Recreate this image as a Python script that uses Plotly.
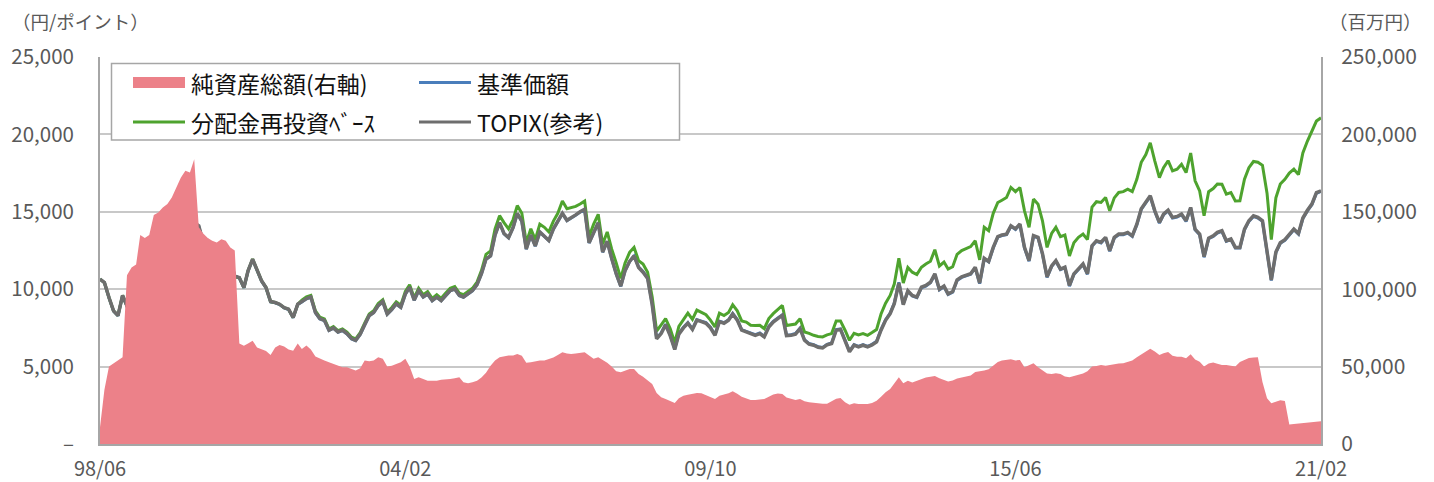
import pandas as pd
import plotly.graph_objects as go

# Monthly dates Jun-1998 .. Feb-2021
dates = pd.date_range("1998-06-01", "2021-02-01", freq="MS")

tick_dates = ["1998-06-01", "2004-02-01", "2009-10-01", "2015-06-01", "2021-02-01"]
tick_labels = ["98/06", "04/02", "09/10", "15/06", "21/02"]

left_ticks = [0, 5000, 10000, 15000, 20000, 25000]
left_labels = ["–", "5,000", "10,000", "15,000", "20,000", "25,000"]
right_ticks = [0, 50000, 100000, 150000, 200000, 250000]
right_labels = ["0", "50,000", "100,000", "150,000", "200,000", "250,000"]

# 純資産総額 (百万円)
nav_total = [
    10800, 35000, 50000, 52000, 53500, 56000, 109000, 114000, 116000, 135000, 133000, 135000,
    148000, 149600, 152800, 155000, 159200, 166000, 172000, 176500, 175400, 184000, 140000, 136000,
    133000, 131300, 130200, 132300, 131300, 127000, 125000, 65000, 63500, 65000, 66700, 62400,
    61300, 60000, 57500, 62400, 64000, 63000, 61000, 60300, 65000, 61400, 63600, 61000,
    56500, 55000, 53900, 52800, 51700, 50600, 49600, 49600, 48500, 47400, 49000, 54000,
    53500, 54000, 56000, 55000, 50000, 50600, 51700, 52800, 55000, 50000, 42000, 43100,
    42000, 40900, 40900, 40900, 41500, 42000, 42000, 42500, 43100, 39900, 39200, 39900,
    40900, 43000, 46000, 50500, 54000, 56000, 56500, 57100, 57100, 58200, 57000, 52500,
    52800, 53400, 53900, 53900, 55000, 55800, 57500, 59300, 58500, 58200, 58400, 59000,
    59300, 57100, 55000, 56000, 54500, 52500, 50000, 47000, 46300, 47500, 48500, 48500,
    45300, 43500, 41000, 38800, 33000, 30200, 29100, 28000, 26500, 29500, 31200, 31800,
    32300, 33000, 32800, 31500, 30200, 29100, 31200, 31900, 32800, 34000, 32500, 30500,
    29400, 28500, 28400, 28600, 29100, 30600, 31900, 32600, 32300, 30000, 29000, 28500,
    29000, 27600, 26900, 26500, 26500, 26000, 26000, 27500, 29300, 29700, 26900, 25300,
    26300, 25900, 25900, 25900, 26500, 28000, 30500, 33400, 35600, 39000, 43100, 39200,
    40900, 39800, 41000, 42200, 43000, 43500, 44000, 42500, 41500, 40400, 41000, 42300,
    43000, 43500, 44300, 46500, 46800, 47400, 48300, 50500, 53000, 54000, 54300, 54700,
    54000, 54300, 49500, 51100, 52100, 49500, 47500, 45500, 45200, 45700, 45300, 43600,
    43200, 44000, 44500, 45500, 47000, 50000, 50400, 51000, 50500, 51100, 51500, 52000,
    52100, 52800, 54000, 56000, 58000, 59700, 61500, 59700, 57500, 58600, 59500, 57000,
    56400, 56400, 55400, 58000, 54600, 53200, 50000, 52000, 52600, 51900, 51100, 51100,
    50500, 50000, 53000, 54500, 55500, 55800, 56000, 40000, 29600, 26400, 27300, 28200,
    27800, 12600, 13000, 13300, 13500, 13900, 14200, 14500, 14700,
]

# 基準価額
base_price = [
    10650, 10420, 9440, 8580, 8280, 9580, 8900, 9120, 9230, 10720, 11160, 10940,
    12020, 12560, 12340, 12660, 13090, 14050, 13950, 14490, 14050, 14270, 14050, 12990,
    13090, 12450, 12770, 12560, 12020, 11800, 10830, 10720, 10080, 11160, 11910, 11160,
    10510, 10080, 9180, 9120, 9010, 8790, 8690, 8150, 9010, 9180, 9380, 9480,
    8480, 8080, 7970, 7330, 7480, 7220, 7330, 7110, 6790, 6680, 7080, 7680,
    8280, 8480, 8930, 9180, 8380, 8680, 9040, 8820, 9680, 10110, 9280, 9890,
    9480, 9680, 9250, 9470, 9250, 9580, 9890, 10000, 9580, 9480, 9680, 9890,
    10280, 10980, 11930, 12140, 13480, 14280, 13580, 13320, 13980, 14880, 14380, 12580,
    13480, 12780, 13680, 13430, 13130, 13880, 14380, 14880, 14430, 14580, 14780, 14980,
    15140, 12980, 13680, 14280, 12380, 13080, 11980, 10980, 10180, 11180, 11780, 12140,
    11440, 11140, 10740, 9040, 6840, 7170, 7740, 7040, 6140, 7140, 7540, 7840,
    7440, 8040, 7940, 7840, 7540, 7060, 7940, 7840, 8030, 8440, 8040, 7390,
    7280, 7170, 7060, 7170, 6960, 7600, 7920, 8140, 8350, 7040, 7060, 7140,
    7490, 6740, 6490, 6420, 6290, 6240, 6440, 6530, 7390, 7440, 6740, 6000,
    6420, 6310, 6420, 6310, 6440, 6640, 7390, 8030, 8460, 9100, 10440, 9040,
    9860, 9560, 9450, 10090, 10200, 10410, 10950, 9960, 10160, 9660, 9810, 10560,
    10760, 10840, 10960, 11380, 10360, 11960, 11760, 12660, 13360, 13460, 13520, 14060,
    13860, 14170, 12660, 11810, 13420, 13310, 12260, 10760, 11460, 11810, 11260, 11380,
    10200, 10950, 11270, 11590, 10960, 12770, 13090, 12990, 13310, 12450, 13310, 13520,
    13520, 13630, 13410, 14160, 15160, 15560, 15990, 15020, 14270, 14810, 15060, 14600,
    14660, 14810, 14380, 15240, 13840, 13520, 12060, 13260, 13410, 13630, 13740, 13090,
    13200, 12660, 12660, 13840, 14380, 14700, 14600, 14380, 12460, 10560, 12360, 12960,
    13160, 13460, 13840, 13560, 14560, 15060, 15460, 16200, 16310,
]

# 分配金再投資ベース
reinvest = [
    10650, 10430, 9460, 8600, 8300, 9600, 8920, 9140, 9250, 10750, 11100, 10880,
    11950, 12480, 12260, 12580, 13000, 13960, 13860, 14400, 13960, 14180, 13970, 12900,
    13000, 12370, 12690, 12480, 11950, 11730, 10780, 10750, 10100, 11190, 11940, 11190,
    10540, 10110, 9200, 9140, 9030, 8810, 8710, 8170, 9030, 9300, 9500, 9600,
    8600, 8200, 8080, 7430, 7590, 7330, 7440, 7220, 6900, 6790, 7200, 7800,
    8400, 8610, 9070, 9320, 8510, 8820, 9180, 8960, 9850, 10280, 9440, 10060,
    9650, 9850, 9410, 9640, 9410, 9750, 10060, 10170, 9750, 9650, 9850, 10060,
    10460, 11200, 12250, 12470, 13880, 14750, 14300, 13900, 14500, 15400, 14900, 13000,
    13900, 13200, 14200, 14000, 13700, 14400, 14900, 15700, 15200, 15250, 15350, 15500,
    15690, 13400, 14200, 14840, 12900, 13700, 12600, 11700, 10700, 11700, 12380, 12700,
    11840, 11630, 11100, 9500, 7300, 7700, 8100, 7450, 6550, 7600, 8050, 8450,
    8050, 8650, 8500, 8350, 8000, 7560, 8450, 8300, 8500, 9000, 8600, 7950,
    7880, 7670, 7650, 7670, 7450, 8100, 8420, 8700, 8950, 7650, 7700, 7750,
    8100, 7240, 7150, 7020, 6950, 6920, 7050, 7130, 7950, 7950, 7350, 6700,
    7150, 7050, 7130, 7020, 7200, 7400, 8400, 9100, 9600, 10330, 12000, 10400,
    11400, 11100, 10950, 11420, 11630, 11800, 12550, 11500, 11750, 11300, 11450, 12250,
    12500, 12600, 12750, 13130, 11900, 14000, 13780, 14900, 15600, 15750, 15920, 16570,
    16300, 16570, 15060, 14000, 15820, 15490, 14420, 12700, 13600, 14000, 13400, 13500,
    12150, 13000, 13350, 13560, 13200, 15300, 15650, 15600, 15920, 15060, 15900, 16250,
    16300, 16460, 16300, 17100, 18200, 18700, 19460, 18280, 17210, 17850, 18300, 17640,
    17750, 18070, 17530, 18800, 17000, 16350, 14740, 16300, 16500, 16800, 16780, 16140,
    16240, 15700, 15710, 17100, 17850, 18250, 18200, 18000, 16200, 13200, 15900, 16800,
    17100, 17500, 17750, 17400, 18800, 19570, 20200, 20860, 21070,
]

# TOPIX(参考)
topix = [
    10650, 10430, 9460, 8600, 8300, 9600, 8920, 9140, 9250, 10750, 11190, 10970,
    12050, 12590, 12370, 12690, 13120, 14090, 13990, 14530, 14090, 14310, 14090, 13020,
    13120, 12480, 12800, 12590, 12050, 11830, 10860, 10750, 10100, 11190, 11940, 11190,
    10540, 10110, 9200, 9140, 9030, 8810, 8710, 8170, 9030, 9200, 9400, 9500,
    8500, 8100, 7990, 7350, 7500, 7240, 7350, 7130, 6810, 6700, 7100, 7700,
    8300, 8500, 8950, 9200, 8400, 8700, 9060, 8840, 9700, 10130, 9300, 9910,
    9500, 9700, 9270, 9490, 9270, 9600, 9910, 10020, 9600, 9500, 9700, 9910,
    10300, 11000, 11950, 12160, 13500, 14300, 13600, 13340, 14000, 14900, 14400, 12600,
    13500, 12800, 13700, 13450, 13150, 13900, 14400, 14900, 14450, 14600, 14800, 15000,
    15160, 13000, 13700, 14300, 12400, 13100, 12000, 11000, 10200, 11200, 11800, 12160,
    11400, 11100, 10700, 9000, 6800, 7130, 7700, 7000, 6100, 7100, 7500, 7800,
    7400, 8000, 7900, 7800, 7500, 7020, 7900, 7800, 7990, 8400, 8000, 7350,
    7240, 7130, 7020, 7130, 6920, 7560, 7880, 8100, 8310, 7000, 7020, 7100,
    7450, 6700, 6450, 6380, 6250, 6200, 6400, 6490, 7350, 7400, 6700, 5960,
    6380, 6270, 6380, 6270, 6400, 6600, 7350, 7990, 8420, 9060, 10400, 9000,
    9900, 9600, 9490, 10130, 10240, 10450, 10990, 10000, 10200, 9700, 9850, 10600,
    10800, 10880, 11000, 11420, 10400, 12000, 11800, 12700, 13400, 13500, 13560, 14100,
    13900, 14210, 12700, 11850, 13460, 13350, 12300, 10800, 11500, 11850, 11300, 11420,
    10240, 10990, 11310, 11630, 11000, 12810, 13130, 13030, 13350, 12490, 13350, 13560,
    13560, 13670, 13450, 14200, 15200, 15600, 16030, 15060, 14310, 14850, 15100, 14640,
    14700, 14850, 14420, 15280, 13880, 13560, 12100, 13300, 13450, 13670, 13780, 13130,
    13240, 12700, 12700, 13880, 14420, 14740, 14640, 14420, 12500, 10600, 12400, 13000,
    13200, 13500, 13880, 13600, 14600, 15100, 15500, 16240, 16350,
]

names = ["純資産総額(右軸)", "基準価額", "分配金再投資ﾍﾞｰｽ", "TOPIX(参考)"]

PINK = "#EC8189"
BLUE = "#4A7EBB"
GREEN = "#4EA32E"
GRAY = "#6E6E6E"
FONT = "Noto Sans CJK JP"
TXT = "#595959"

# page has an 8px body margin: figure is drawn from (8, 8)
OFF = 8
W, H = 1434 - OFF, 482 - OFF
PL, PR, PT, PB = 100, 1321, 57, 444        # plot area in page pixels
L, R, T, B = PL - OFF, W - (PR - OFF), PT - OFF, H - (PB - OFF)
pw, ph = PR - PL, PB - PT

def px(xp):
    return (xp - PL) / pw

def py(yp):
    return (PB - yp) / ph

fig = go.Figure()
fig.add_trace(go.Scatter(x=dates, y=nav_total, yaxis="y2", mode="lines", fill="tozeroy",
                         line=dict(color=PINK, width=0), fillcolor=PINK, name=names[0],
                         showlegend=False, hoverinfo="skip"))
fig.add_trace(go.Scatter(x=dates, y=base_price, mode="lines", name=names[1],
                         line=dict(color=BLUE, width=3), showlegend=False))
fig.add_trace(go.Scatter(x=dates, y=reinvest, mode="lines", name=names[2],
                         line=dict(color=GREEN, width=3), showlegend=False))
fig.add_trace(go.Scatter(x=dates, y=topix, mode="lines", name=names[3],
                         line=dict(color=GRAY, width=3.5), showlegend=False))

# legend box drawn as shapes + text
shapes = [dict(type="rect", xref="paper", yref="paper", x0=px(111.5), x1=px(679.5),
               y0=py(140), y1=py(63.5), line=dict(color="#A6A6A6", width=1.5),
               fillcolor="white", layer="above")]
legend_items = [
    (names[0], PINK, 11, 133, 82.5),
    (names[1], BLUE, 3, 419, 82.5),
    (names[2], GREEN, 3, 133, 122),
    (names[3], GRAY, 3, 419, 122),
]
annotations = []
for name, col, lw, x0, yc in legend_items:
    shapes.append(dict(type="line", xref="paper", yref="paper", x0=px(x0), x1=px(x0 + 52),
                       y0=py(yc), y1=py(yc), line=dict(color=col, width=lw), layer="above"))
    annotations.append(dict(text=name, xref="paper", yref="paper", x=px(x0 + 56), y=py(yc),
                            xanchor="left", yanchor="middle", showarrow=False,
                            font=dict(family=FONT, size=23, color="#111111")))

annotations += [
    dict(text="（円/ポイント）", xref="paper", yref="paper", x=px(10), y=py(21), xanchor="left",
         yanchor="middle", showarrow=False, font=dict(family=FONT, size=18.5, color=TXT)),
    dict(text="（百万円）", xref="paper", yref="paper", x=px(1424), y=py(21), xanchor="right",
         yanchor="middle", showarrow=False, font=dict(family=FONT, size=18.5, color=TXT)),
]

tickfont = dict(family=FONT, size=21, color=TXT)
fig.update_layout(
    width=W, height=H,
    margin=dict(l=L, r=R, t=T, b=B, autoexpand=False),
    paper_bgcolor="white", plot_bgcolor="white",
    font=dict(family=FONT, size=19, color=TXT),
    showlegend=False,
    xaxis=dict(type="date", range=["1998-06-01", "2021-02-01"], tickvals=tick_dates, ticktext=tick_labels,
               showgrid=False, showline=True, linecolor="#A6A6A6", linewidth=2, ticks="",
               tickfont=dict(family=FONT, size=20, color=TXT), zeroline=False, ticklabelstandoff=6),
    yaxis=dict(range=[0, 25000], tickvals=left_ticks, ticktext=left_labels, showgrid=True,
               gridcolor="#C8C8C8", gridwidth=1.5, showline=True, linecolor="#A6A6A6", linewidth=2,
               ticks="", zeroline=False, tickfont=dict(family=FONT, size=20.5, color=TXT),
               ticklabelstandoff=20),
    yaxis2=dict(range=[0, 250000], tickvals=right_ticks, ticktext=right_labels, overlaying="y", side="right",
                showgrid=False, showline=True, linecolor="#A6A6A6", linewidth=2, ticks="", zeroline=False,
                tickfont=tickfont, ticklabelstandoff=14),
    shapes=shapes,
    annotations=annotations,
)

fig.write_html("out.html")
